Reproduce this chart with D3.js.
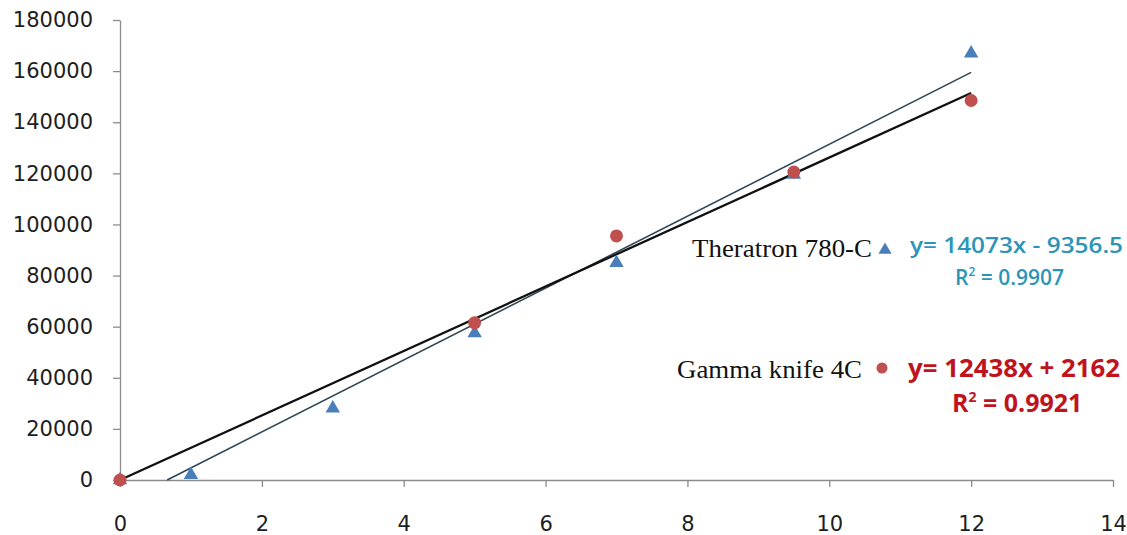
<!DOCTYPE html>
<html lang="en">
<head>
<meta charset="utf-8">
<script src="https://cdnjs.cloudflare.com/ajax/libs/d3/7.8.5/d3.min.js"></script>
<style>
  body { margin: 0; background: #fff; }
  .tick text { font-family: "DejaVu Sans", Verdana, sans-serif; font-size: 21px; fill: #1e1e1e; }
  .axis path, .axis line { stroke: #8c8c8c; stroke-width: 1.3; }
</style>
</head>
<body>
<script>
// Theratron 780-C (triangles)
var theraX = [0, 1, 3, 5, 7, 9.5, 12];
var theraY = [0, 2000, 28000, 57500, 85000, 119500, 167000];
// Gamma knife 4C (circles)
var gammaX = [0, 5, 7, 9.5, 12];
var gammaY = [0, 61500, 95500, 120500, 148500];

var xTicks = [0, 2, 4, 6, 8, 10, 12, 14];
var yTicks = [0, 20000, 40000, 60000, 80000, 100000, 120000, 140000, 160000, 180000];

// trendline coefficients as printed on the chart
var theraFit = {slope: 14073, icpt: -9356.5, r2: "0.9907"};
var gammaFit = {slope: 12438, icpt: 2162, r2: "0.9921"};

var W = 1127, H = 535;
var margin = {top: 20, right: 14, bottom: 55, left: 120};

var svg = d3.select("body").append("svg").attr("width", W).attr("height", H);

var x = d3.scaleLinear().domain([0, 14]).range([margin.left, W - margin.right]);
var y = d3.scaleLinear().domain([0, 180000]).range([H - margin.bottom, margin.top]);

svg.append("g")
    .attr("class", "axis")
    .attr("transform", "translate(0," + y(0) + ")")
    .call(d3.axisBottom(x).tickValues(xTicks).tickSize(7).tickSizeOuter(0))
    .call(function(g) { g.selectAll(".tick text").attr("y", 51).attr("dy", 0); });

svg.append("g")
    .attr("class", "axis")
    .attr("transform", "translate(" + x(0) + ",0)")
    .call(d3.axisLeft(y).tickValues(yTicks).tickSize(7).tickSizeOuter(0).tickPadding(20).tickFormat(d3.format("d")));

// trendlines
var theraStart = -theraFit.icpt / theraFit.slope;
svg.append("line")
    .attr("x1", x(theraStart)).attr("y1", y(0))
    .attr("x2", x(12)).attr("y2", y(theraFit.slope * 12 + theraFit.icpt))
    .attr("stroke", "#2f4656").attr("stroke-width", 1.6);

svg.append("line")
    .attr("x1", x(0)).attr("y1", y(0))
    .attr("x2", x(12)).attr("y2", y(gammaFit.slope * 12 + gammaFit.icpt))
    .attr("stroke", "#111").attr("stroke-width", 2.3);

var tri = d3.symbol().type(d3.symbolTriangle).size(90);

svg.append("g").selectAll("path")
    .data(d3.range(theraX.length))
    .enter().append("path")
    .attr("d", tri)
    .attr("transform", function(i) { return "translate(" + x(theraX[i]) + "," + y(theraY[i]) + ")"; })
    .attr("fill", "#4a7ebb");

svg.append("g").selectAll("circle")
    .data(d3.range(gammaX.length))
    .enter().append("circle")
    .attr("cx", function(i) { return x(gammaX[i]); })
    .attr("cy", function(i) { return y(gammaY[i]); })
    .attr("r", 6.5)
    .attr("fill", "#c0504d");

// labels for the series
var serif = "'Liberation Serif', 'Times New Roman', serif";
var sans = "'Open Sans', sans-serif";

svg.append("text")
    .attr("x", 692).attr("y", 257)
    .attr("textLength", 180).attr("lengthAdjust", "spacingAndGlyphs")
    .style("font-family", serif)
    .style("font-size", "26px").style("fill", "#111")
    .text("Theratron 780-C");

svg.append("path")
    .attr("d", d3.symbol().type(d3.symbolTriangle).size(75))
    .attr("transform", "translate(885,250)")
    .attr("fill", "#4a7ebb");

svg.append("text")
    .attr("x", 910).attr("y", 253)
    .attr("textLength", 213).attr("lengthAdjust", "spacingAndGlyphs")
    .style("font-family", sans)
    .style("font-size", "21px").style("font-weight", "600").style("fill", "#2b95b8")
    .text("y= " + theraFit.slope + "x - " + Math.abs(theraFit.icpt));

svg.append("text")
    .attr("x", 955).attr("y", 285)
    .style("font-family", sans)
    .style("font-size", "21px").style("font-weight", "600").style("fill", "#2b95b8")
    .html("R<tspan dy='-9' font-size='12px'>2</tspan><tspan dy='9'> = " + theraFit.r2 + "</tspan>");

svg.append("text")
    .attr("x", 677).attr("y", 378)
    .attr("textLength", 185).attr("lengthAdjust", "spacingAndGlyphs")
    .style("font-family", serif)
    .style("font-size", "26px").style("fill", "#111")
    .text("Gamma knife 4C");

svg.append("circle")
    .attr("cx", 882).attr("cy", 368).attr("r", 5.5)
    .attr("fill", "#c0504d");

svg.append("text")
    .attr("x", 908).attr("y", 377)
    .attr("textLength", 212).attr("lengthAdjust", "spacingAndGlyphs")
    .style("font-family", sans)
    .style("font-size", "25px").style("font-weight", "700").style("fill", "#c0141c")
    .text("y= " + gammaFit.slope + "x  + " + gammaFit.icpt);

svg.append("text")
    .attr("x", 952).attr("y", 412)
    .style("font-family", sans)
    .style("font-size", "25px").style("font-weight", "700").style("fill", "#c0141c")
    .html("R<tspan dy='-10' font-size='14px'>2</tspan><tspan dy='10'> = " + gammaFit.r2 + "</tspan>");
</script>
</body>
</html>
